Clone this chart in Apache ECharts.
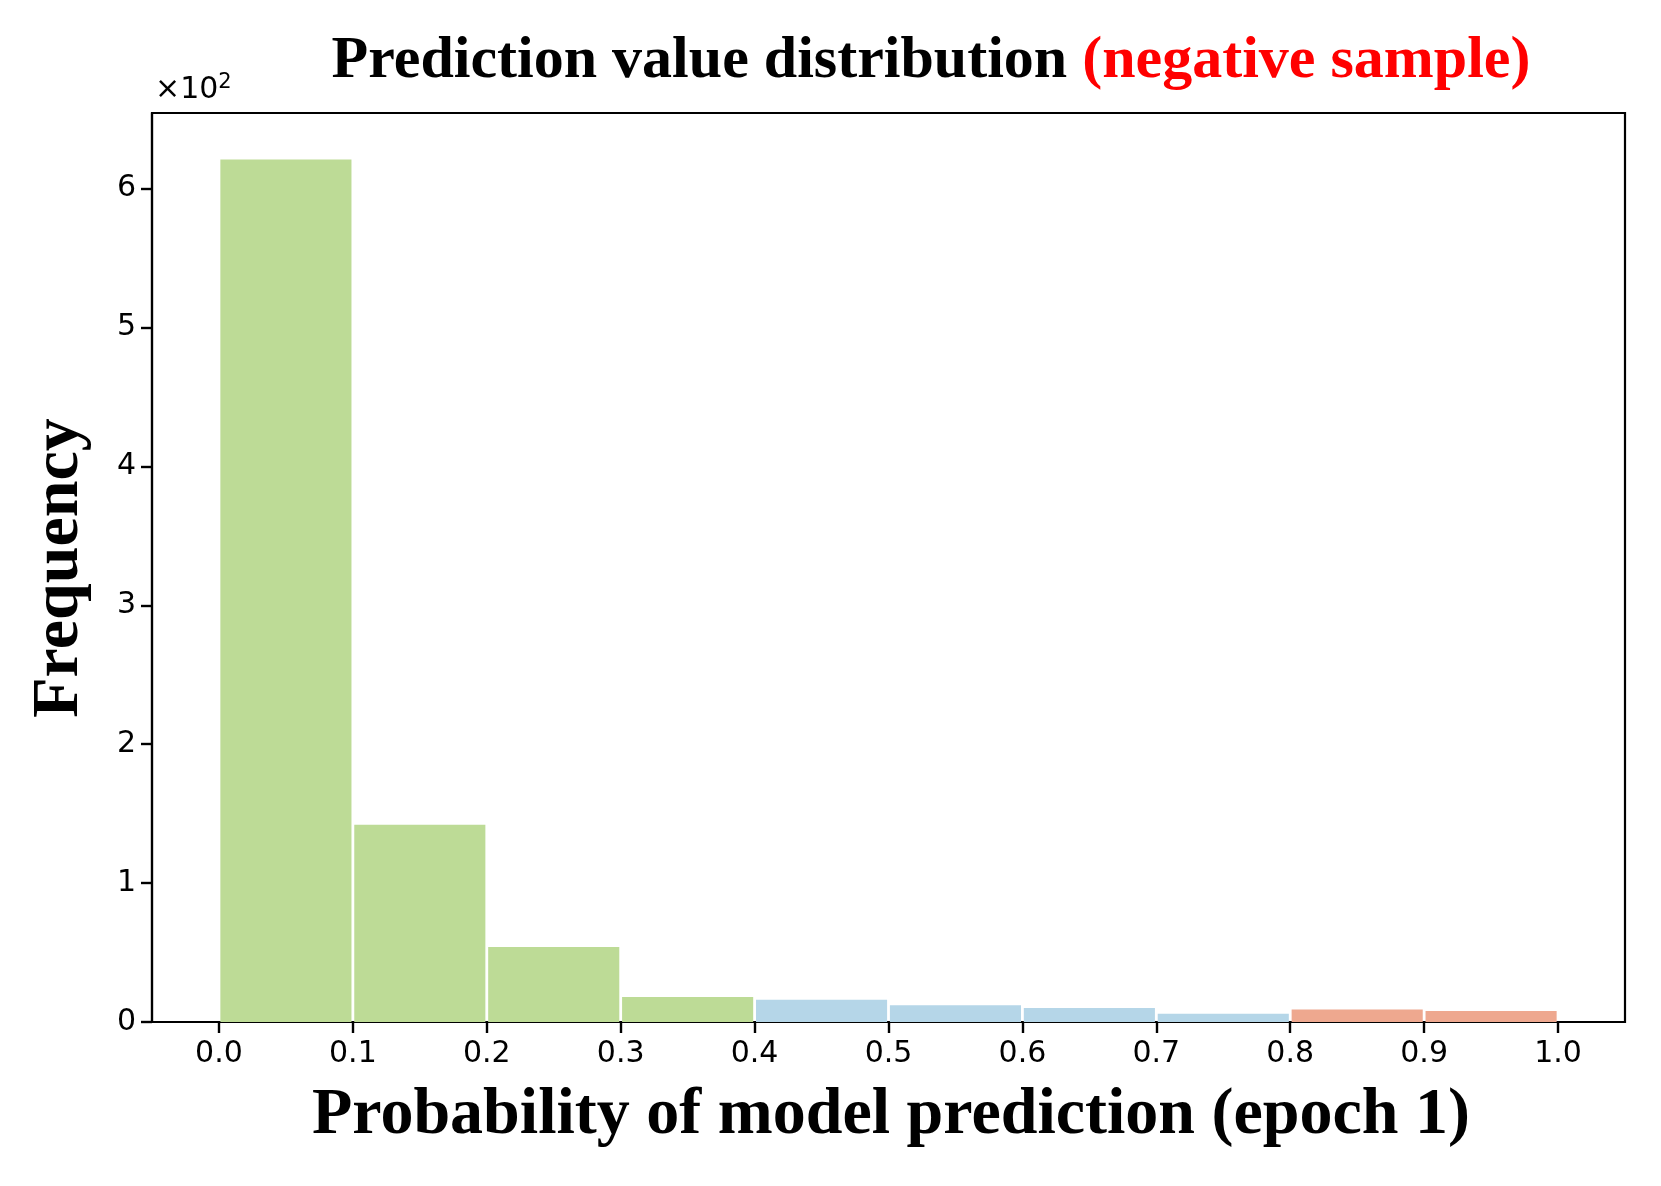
<!DOCTYPE html>
<html>
<head>
<meta charset="utf-8">
<script src="https://cdn.jsdelivr.net/npm/echarts@6/dist/echarts.min.js"></script>
<style>
html,body{margin:0;padding:0;background:#fff;}
#chart{width:1661px;height:1186px;}
</style>
</head>
<body>
<div id="chart"></div>
<script>
// ---- data ----
const binStarts = [0.0, 0.1, 0.2, 0.3, 0.4, 0.5, 0.6, 0.7, 0.8, 0.9];
const binEnds   = [0.1, 0.2, 0.3, 0.4, 0.5, 0.6, 0.7, 0.8, 0.9, 1.0];
const counts    = [622, 143, 55, 19, 17, 13, 11, 7, 10, 9];
const binGroup  = ['low','low','low','low','mid','mid','mid','mid','high','high'];
const xTicks    = [0.0, 0.1, 0.2, 0.3, 0.4, 0.5, 0.6, 0.7, 0.8, 0.9, 1.0];
const yTicks    = [0, 100, 200, 300, 400, 500, 600];
const titleMain = 'Prediction value distribution ';
const titleRed  = '(negative sample)';
const xName     = 'Probability of model prediction (epoch 1)';
const yName     = 'Frequency';

// ---- styles ----
const palette = { low: '#bddb96', mid: '#b5d6e8', high: '#eea88f' };
const serif = '"Liberation Serif", "Times New Roman", serif';
const sans = '"DejaVu Sans", sans-serif';

const chart = echarts.init(document.getElementById('chart'), null, {renderer: 'canvas'});

const data = binStarts.map((s, i) => [s, binEnds[i], counts[i], i]);

const option = {
  backgroundColor: '#fff',
  animation: false,
  grid: { left: 152, top: 113, right: 36, bottom: 164, show: true, borderColor: '#000', borderWidth: 2.2, backgroundColor: 'transparent' },
  xAxis: {
    type: 'value', min: -0.05, max: 1.05,
    splitLine: { show: false },
    axisLine: { show: true, onZero: false, lineStyle: { color: '#000', width: 2.2 } },
    axisTick: { show: true, inside: false, length: 11, lineStyle: { color: '#000', width: 2.4 }, customValues: xTicks },
    axisLabel: { show: true, customValues: xTicks, color: '#000', fontFamily: sans, fontSize: 30, margin: 17,
      formatter: v => v.toFixed(1) }
  },
  yAxis: {
    type: 'value', min: 0, max: 654.4,
    splitLine: { show: false },
    axisLine: { show: true, onZero: false, lineStyle: { color: '#000', width: 2.2 } },
    axisTick: { show: true, inside: false, length: 11, lineStyle: { color: '#000', width: 2.4 }, customValues: yTicks },
    axisLabel: { show: true, customValues: yTicks, color: '#000', fontFamily: sans, fontSize: 30, margin: 16,
      formatter: v => String(Math.round(v / 100)) }
  },
  series: [{
    type: 'custom',
    data: data,
    encode: { x: [0, 1], y: 2 },
    renderItem: function (params, api) {
      const p0 = api.coord([api.value(0), api.value(2)]);
      const p1 = api.coord([api.value(1), 0]);
      const inset = 1.4;
      const idx = api.value(3);
      return {
        type: 'rect',
        shape: { x: p0[0] + inset, y: p0[1] + inset, width: p1[0] - p0[0] - 2 * inset, height: p1[1] - p0[1] - inset },
        style: { fill: palette[binGroup[idx]] }
      };
    }
  }],
  graphic: [
    {
      type: 'text', x: 931, y: 61,
      style: {
        text: '{a|' + titleMain + '}{b|' + titleRed + '}',
        align: 'center', verticalAlign: 'middle',
        rich: {
          a: { fontFamily: serif, fontWeight: 'bold', fontSize: 60, fill: '#000' },
          b: { fontFamily: serif, fontWeight: 'bold', fontSize: 60, fill: '#ff0000' }
        }
      }
    },
    {
      type: 'text', left: 155, top: 72,
      style: {
        text: '{m|×10}{s|2}',
        rich: {
          m: { fontFamily: sans, fontSize: 30, fill: '#000' },
          s: { fontFamily: sans, fontSize: 21, fill: '#000', verticalAlign: 'top', padding: [0, 0, 15, 0] }
        }
      }
    },
    {
      type: 'text', x: 891, y: 1116,
      style: { text: xName, fontFamily: serif, fontWeight: 'bold', fontSize: 66, fill: '#000', align: 'center', verticalAlign: 'middle' }
    },
    {
      type: 'text', x: 60, y: 568, rotation: Math.PI / 2,
      style: { text: yName, fontFamily: serif, fontWeight: 'bold', fontSize: 66, fill: '#000', align: 'center', verticalAlign: 'middle' }
    }
  ]
};
chart.setOption(option);
</script>
</body>
</html>
